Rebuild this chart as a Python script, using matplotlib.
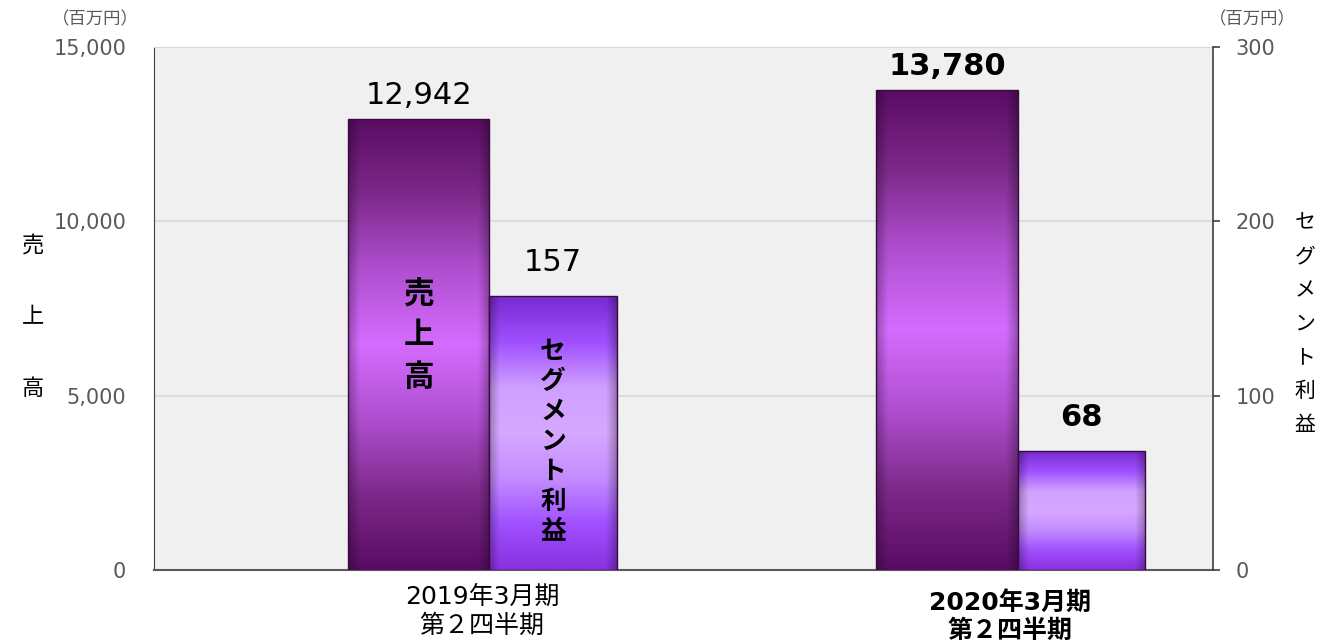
import matplotlib
matplotlib.use("Agg")
import matplotlib.pyplot as plt
import matplotlib.transforms as mtransforms
import numpy as np
from matplotlib.colors import LinearSegmentedColormap
from matplotlib.ticker import FuncFormatter

plt.rcParams['font.family'] = ['DejaVu Sans', 'Noto Sans CJK JP']

# data
periods = ["2019年3月期\n第２四半期", "2020年3月期\n第２四半期"]
sales = [12942, 13780]            # 売上高 (百万円)
profit = [157, 68]                # セグメント利益 (百万円)
sales_labels = ["12,942", "13,780"]
profit_labels = ["157", "68"]
left_ticks = [0, 5000, 10000, 15000]
right_ticks = [0, 100, 200, 300]

sales_cmap = LinearSegmentedColormap.from_list(
    "sales", ["#5a0c64", "#7d2a8a", "#b04fd0", "#d46cff", "#b04fd0", "#7d2a8a", "#5a0c64"])
profit_cmap = LinearSegmentedColormap.from_list(
    "profit", ["#8a30e0", "#a050ff", "#c48cff", "#d6a8ff", "#d0a0ff", "#a050ff", "#7a2ad0"])


def gradient_fill(ax, patch, cmap):
    """Paint a vertical gradient with darker side edges inside a bar patch."""
    x, y = patch.get_x(), patch.get_y()
    w, h = patch.get_width(), patch.get_height()
    v = np.linspace(0, 1, 200)
    rgb = cmap(v)[:, :3]                                   # vertical colours
    u = np.linspace(0, 1, 100)
    side = np.clip(np.minimum(u, 1 - u) / 0.08, 0, 1)      # darker edges
    shade = 0.72 + 0.28 * side
    img = rgb[:, None, :] * shade[None, :, None]
    im = ax.imshow(img, extent=(x, x + w, y, y + h), origin="lower",
                   aspect="auto", zorder=3, interpolation="bilinear")
    im.set_clip_path(patch)
    patch.set_facecolor("none")
    patch.set_edgecolor("#3a0a40")
    patch.set_linewidth(1.0)
    patch.set_zorder(4)


def stack_text(target, x, y, s, step, transform, **kw):
    """Write characters top to bottom, centred on (x, y), step in pixels."""
    n = len(s)
    for i, ch in enumerate(s):
        dy = ((n - 1) / 2 - i) * step
        tr = mtransforms.offset_copy(transform, fig=fig, x=0, y=dy, units="dots")
        target.text(x, y, ch, transform=tr, ha="center", va="center", **kw)


fig = plt.figure(figsize=(13.2, 6.44), dpi=100)
ax = fig.add_axes([0.1167, 0.115, 0.8023, 0.812])
ax2 = ax.twinx()

xpos = np.arange(len(periods))
w_sales = 0.268
w_profit = 0.241
off = 0.014

sbars = ax.bar(xpos + off, sales, width=-w_sales, align="edge", zorder=3)
pbars = ax2.bar(xpos + off, profit, width=w_profit, align="edge", zorder=3)

for p in sbars:
    gradient_fill(ax, p, sales_cmap)
for p in pbars:
    gradient_fill(ax2, p, profit_cmap)

ax.set_xlim(-0.621, 1.384)
ax.set_ylim(0, 15000)
ax2.set_ylim(0, 300)
ax.set_facecolor("#f0f0f0")
ax.set_yticks(left_ticks)
ax2.set_yticks(right_ticks)
ax.yaxis.set_major_formatter(FuncFormatter(lambda v, p: f"{int(v):,}"))
ax.grid(axis="y", color="#d9d9d9", linewidth=1.2, zorder=0)
ax.set_axisbelow(True)

ax.set_xticks(xpos)
ax.set_xticklabels(periods, fontsize=18, linespacing=1.22)
ax.get_xticklabels()[1].set_fontweight("bold")
ax.get_xticklabels()[1].set_y(-0.01)
ax.tick_params(axis="x", length=0, pad=11, colors="black")
ax.tick_params(axis="y", length=0, labelsize=15, labelcolor="#595959", pad=20)
ax2.tick_params(axis="y", length=5, width=1.2, color="#404040",
                labelsize=15, labelcolor="#595959", pad=11)

ax.spines["top"].set_color("#d9d9d9")
ax2.spines["top"].set_visible(False)
ax.spines["left"].set_color("#404040")
ax.spines["bottom"].set_color("#595959")
ax.spines["bottom"].set_linewidth(1.5)
ax.spines["right"].set_visible(False)
ax2.spines["left"].set_visible(False)
ax2.spines["bottom"].set_visible(False)
ax2.spines["right"].set_color("#404040")
ax2.spines["right"].set_linewidth(1.2)

# value labels
for i, p in enumerate(sbars):
    ax.annotate(sales_labels[i], (p.get_x() + p.get_width() / 2, sales[i]),
                xytext=(0, 6), textcoords="offset points", ha="center", va="bottom",
                fontsize=22, fontweight="bold" if i == 1 else "normal", zorder=5)
for i, p in enumerate(pbars):
    ax2.annotate(profit_labels[i], (p.get_x() + p.get_width() / 2, profit[i]),
                 xytext=(0, 14), textcoords="offset points", ha="center", va="bottom",
                 fontsize=22, fontweight="bold" if i == 1 else "normal", zorder=5)

# labels inside the first group's bars
stack_text(ax, sbars[0].get_x() + sbars[0].get_width() / 2, 6711, "売上高", 41.5,
           ax.transData, fontsize=22, fontweight="bold", zorder=5)
stack_text(ax2, pbars[0].get_x() + pbars[0].get_width() / 2, 73.4, "セグメント利益", 30,
           ax2.transData, fontsize=18.5, fontweight="bold", zorder=5)

# axis titles
stack_text(fig, 0.025, 0.508, "売上高", 71.5, fig.transFigure, fontsize=16)
stack_text(fig, 0.9886, 0.497, "セグメント利益", 33.7, fig.transFigure, fontsize=15)
fig.text(0.072, 0.970, "（百万円）", ha="center", va="center", fontsize=12.5, color="#595959")
fig.text(0.9485, 0.970, "（百万円）", ha="center", va="center", fontsize=12.5, color="#595959")

fig.savefig("out.png", dpi=100)
